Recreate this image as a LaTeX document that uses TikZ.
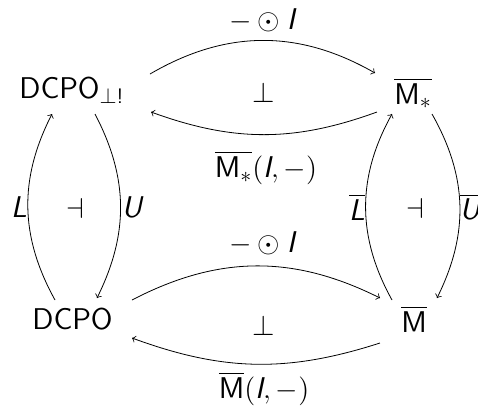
\documentclass[tikz,border=0pt]{standalone}
\usepackage{amsmath}
\newcommand\dgfont{\fontsize{15}{18}\selectfont\sffamily}
\begin{document}
\begin{tikzpicture}[x=0.5pt,y=-0.5pt,
  obj/.style={inner sep=0pt, anchor=base west, font=\dgfont},
  lab/.style={inner sep=0pt, font=\dgfont},
  arr/.style={->, line width=0.4pt}]
\useasboundingbox (0,0) rectangle (478,414);
% objects
\node[obj] (A) at (19,98) {DCPO$_{\bot\text{!}}$};
\node[obj] (B) at (394,104) {$\overline{\text{M}_*}$};
\node[obj] (C) at (32,329) {DCPO};
\node[obj] (D) at (401,332) {$\overline{\text{M}}$};
% horizontal arrows
\draw[arr] ([shift={(131,-24)}]A.base west) to[bend left=30] ([shift={(-19,-31)}]B.base west);
\draw[arr] ([shift={(-17,8)}]B.base west) to[bend left=20] ([shift={(132,14)}]A.base west);
\draw[arr] ([shift={(100,-29)}]C.base west) to[bend left=27] ([shift={(-21,-34)}]D.base west);
\draw[arr] ([shift={(-21,11)}]D.base west) to[bend left=19] ([shift={(100,9)}]C.base west);
% vertical arrows
\draw[arr] ([shift={(23,-29)}]C.base west) to[bend left=28] ([shift={(33,16)}]A.base west);
\draw[arr] ([shift={(76,16)}]A.base west) to[bend left=27] ([shift={(65,-31)}]C.base west);
\draw[arr] ([shift={(-9,-32)}]D.base west) to[bend left=29] ([shift={(-2,10)}]B.base west);
\draw[arr] ([shift={(38,10)}]B.base west) to[bend left=28] ([shift={(36,-34)}]D.base west);
% labels
\node[lab] (t1) at (262,20) {$-\odot\text{\itshape I}$};
\node[lab] (t2) at (266,168) {$\overline{\text{M}_*}(\text{\itshape I},-)$};
\node[lab] (b1) at (262,243) {$-\odot\text{\itshape I}$};
\node[lab] (b2) at (264,389) {$\overline{\text{M}}(\text{\itshape I},-)$};
\node[lab] (p1) at (264,92) {$\bot$};
\node[lab] (p2) at (264,325) {$\bot$};
\node[lab] (l1) at (19,207) {\itshape L};
\node[lab] (u1) at (132,207) {\itshape U};
\node[lab] (d1) at (75,208) {$\dashv$};
\node[lab] (l2) at (357,207) {$\overline{\text{\itshape L}}$};
\node[lab] (u2) at (470,207) {$\overline{\text{\itshape U}}$};
\node[lab] (d2) at (415,208) {$\dashv$};
\end{tikzpicture}
\end{document}
